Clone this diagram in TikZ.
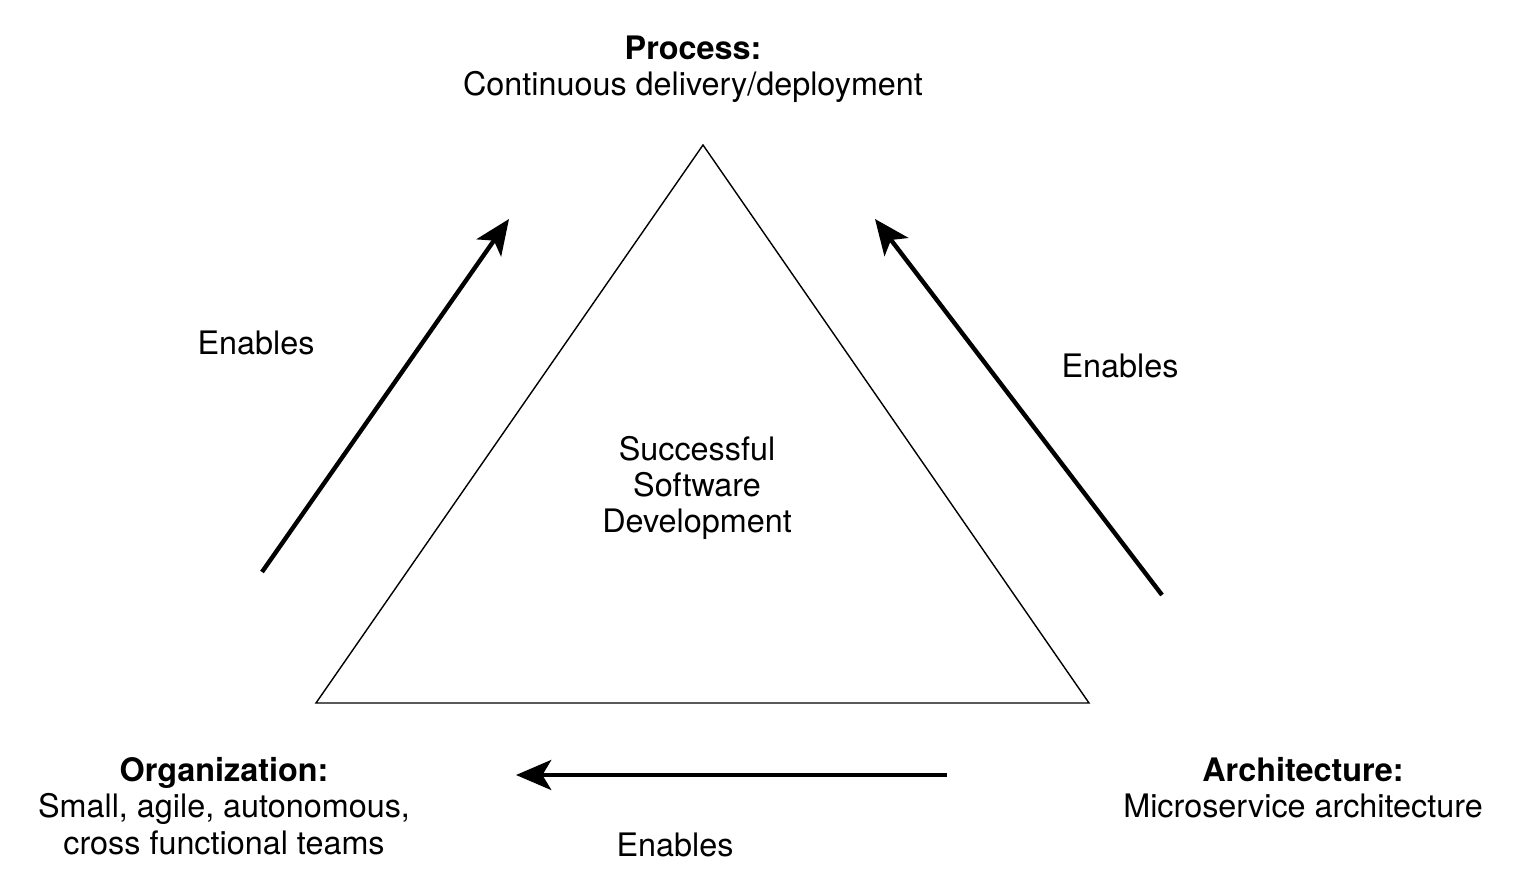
\documentclass[tikz,border=0pt]{standalone}
\usepackage{fontspec}
\setmainfont{TeX Gyre Heros}
\usetikzlibrary{arrows.meta}

\begin{document}
\begin{tikzpicture}[x=0.01cm, y=-0.01cm,
    label/.style={align=center, font=\fontsize{9.2}{10.3}\selectfont, inner sep=0pt},
    enables/.style={line width=1.25pt, -{Stealth[length=10pt, width=8.5pt, inset=2.5pt]}}]
    \useasboundingbox (0,0) rectangle (1528,886);

    % Triangle
    \draw[thin] (703,145) coordinate (P) -- (1089,703) coordinate (R) -- (316,703) coordinate (L) -- cycle;
    \node[label] (center) at (697,488) {Successful\\Software\\Development};

    % Corners
    \node[label] (process) at (693,69) {\textbf{Process:}\\Continuous delivery/deployment};
    \node[label] (org) at (224,806) {\textbf{Organization:}\\Small, agile, autonomous,\\cross functional teams};
    \node[label] (arch) at (1303,788) {\textbf{Architecture:}\\Microservice architecture};

    % Arrows
    \coordinate (a1) at (262,572); \coordinate (b1) at (509,219);
    \coordinate (a2) at (1162,595); \coordinate (b2) at (875,219);
    \coordinate (a3) at (947,775); \coordinate (b3) at (516,775);
    \draw[enables] (a1) -- (b1);
    \draw[enables] (a2) -- (b2);
    \draw[enables] (a3) -- (b3);

    % Labels
    \node[label] (e1) at (256,343) {Enables};
    \node[label] (e2) at (1120,366) {Enables};
    \node[label] (e3) at (675,845) {Enables};
\end{tikzpicture}
\end{document}
